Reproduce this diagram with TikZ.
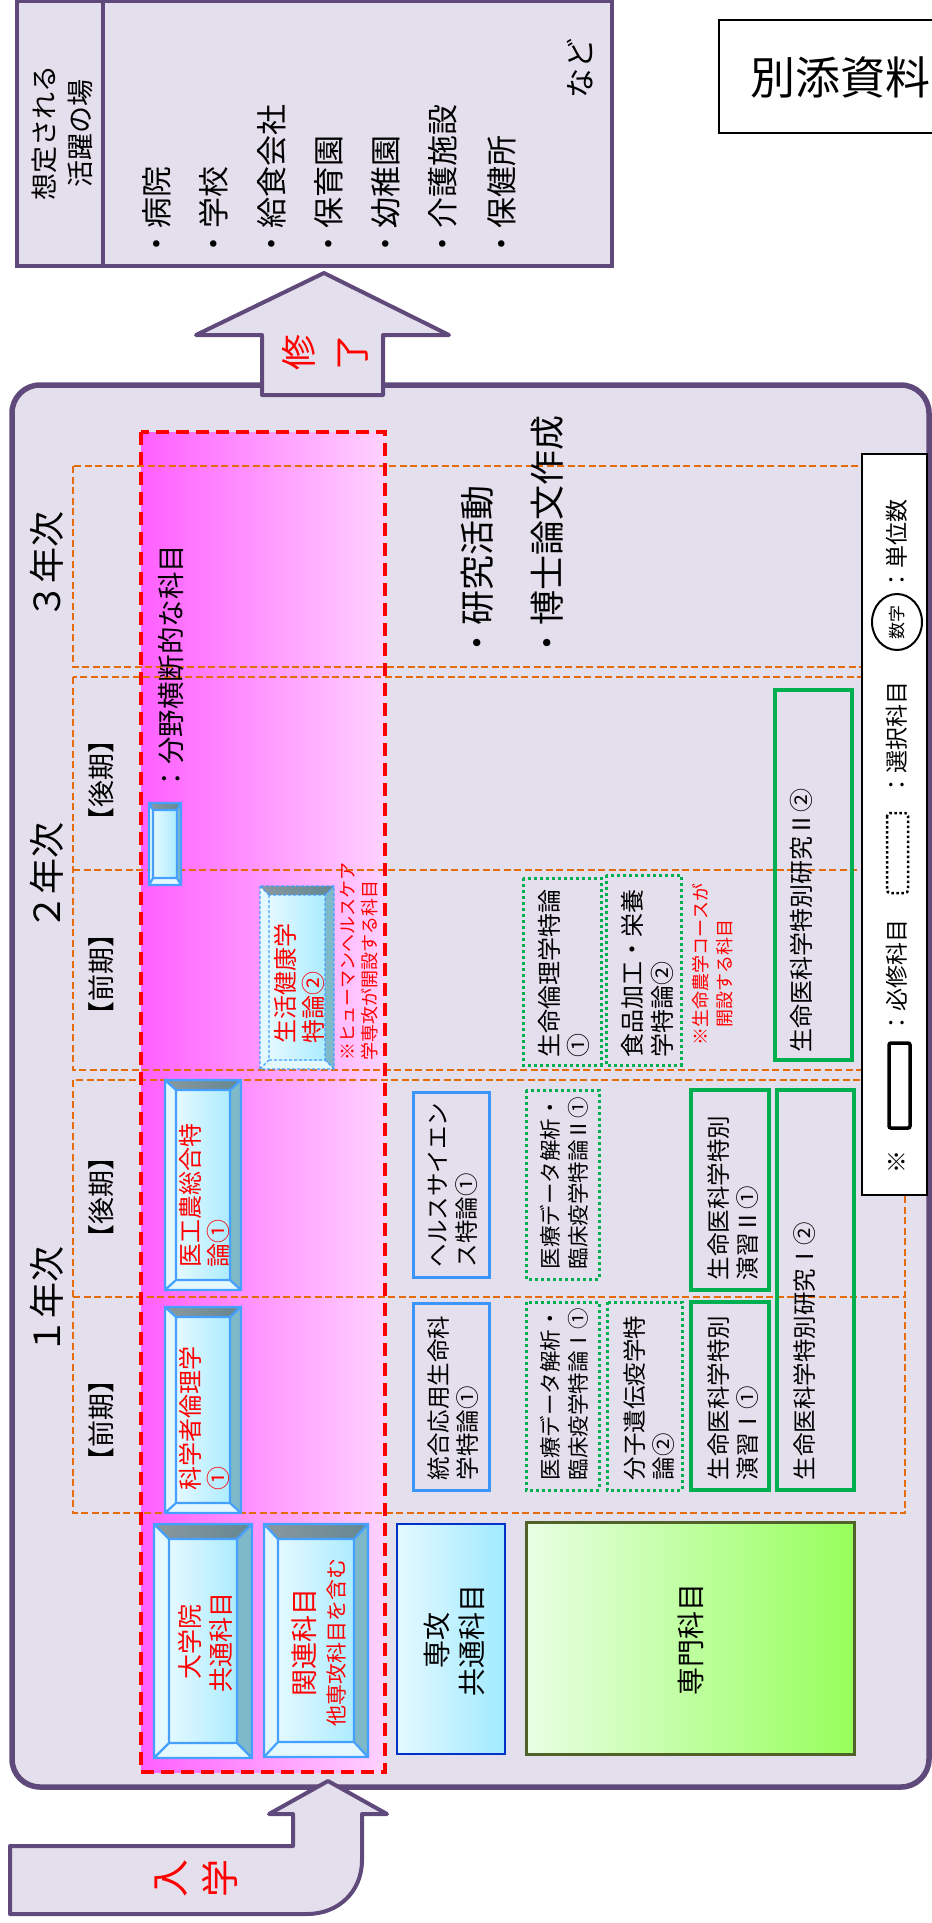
\documentclass[tikz,border=0pt]{standalone}
\usepackage{fontspec}
\setmainfont{Noto Sans CJK JP}
\usetikzlibrary{calc,shapes.geometric}
\definecolor{purp}{RGB}{96,74,123}
\definecolor{lav}{RGB}{228,223,236}
\definecolor{orng}{RGB}{228,108,10}
\definecolor{grn}{RGB}{0,176,80}
\definecolor{blu}{RGB}{60,150,250}
\definecolor{bvline}{RGB}{70,160,255}
\definecolor{bvtopA}{RGB}{138,152,158}
\definecolor{bvtopB}{RGB}{100,135,146}
\definecolor{bvrt}{RGB}{125,185,200}
\definecolor{bvlt}{RGB}{228,249,255}
\definecolor{bvinA}{RGB}{228,249,255}
\definecolor{bvinB}{RGB}{172,236,255}
\definecolor{magA}{RGB}{255,95,255}
\definecolor{magB}{RGB}{255,210,255}
\definecolor{cyA}{RGB}{228,249,255}
\definecolor{cyB}{RGB}{160,234,255}
\definecolor{gnA}{RGB}{232,255,228}
\definecolor{gnB}{RGB}{150,255,90}
\definecolor{olive}{RGB}{80,98,40}
\definecolor{dblue}{RGB}{0,50,200}
\newcommand\fsz[2]{\fontsize{#1}{#2}\selectfont}
\newcommand\bevbox[7][]{%
 \begin{scope}[shift={(#2,#3)}]
  \fill[bvlt] (0,0) -- (#6,#7) -- (#6,{#5-#7}) -- (0,#5) -- cycle;
  \fill[bvlt] (0,#5) -- (#6,{#5-#7}) -- ({#4-#6},{#5-#7}) -- (#4,#5) -- cycle;
  \shade[left color=bvtopA,right color=bvtopB] (0,0) -- (#4,0) -- ({#4-#6},#7) -- (#6,#7) -- cycle;
  \fill[bvrt] (#4,0) -- (#4,#5) -- ({#4-#6},{#5-#7}) -- ({#4-#6},#7) -- cycle;
  \shade[left color=bvinA,right color=bvinB] (#6,#7) rectangle ({#4-#6},{#5-#7});
  \draw[bvl,#1] (0,0) rectangle (#4,#5) (#6,#7) rectangle ({#4-#6},{#5-#7})
     (0,0) -- (#6,#7) (#4,0) -- ({#4-#6},#7) (0,#5) -- (#6,{#5-#7}) (#4,#5) -- ({#4-#6},{#5-#7});
 \end{scope}}
\tikzset{
 vt/.style={rotate=90, inner sep=0pt, outer sep=0pt, align=left, anchor=west},
 vc/.style={rotate=90, inner sep=0pt, outer sep=0pt, align=center, anchor=center},
 pbox/.style={draw=purp, fill=lav, line width=4pt, line join=miter},
 yearbox/.style={draw=orng, line width=2.5pt, dash pattern=on 7pt off 3.5pt},
 reqbox/.style={draw=grn, line width=4pt},
 optbox/.style={draw=grn, line width=3pt, dash pattern=on 3pt off 3pt},
 blubox/.style={draw=blu, line width=3pt},
 bvl/.style={draw=bvline, line width=2.2pt},
}
\begin{document}
\begin{tikzpicture}[x=1pt,y=-1pt]
\useasboundingbox (0,0) rectangle (932,1923);
\clip (0,0) rectangle (932,1923);
\fill[white] (0,0) rectangle (932,1923);

% ---------- top box
\draw[pbox] (17,1) rectangle (612,266);
\draw[draw=purp, line width=4pt] (103,1) -- (103,266);
\node[vc, font=\fsz{27}{36}] (head) at (62,133) {想定される\\活躍の場};
\node[vt, font=\fsz{31}{31}] (p1) at (157,259) {・病院};
\node[vt, font=\fsz{31}{31}] (p2) at (214,259) {・学校};
\node[vt, font=\fsz{31}{31}] (p3) at (272,259) {・給食会社};
\node[vt, font=\fsz{31}{31}] (p4) at (329,259) {・保育園};
\node[vt, font=\fsz{31}{31}] (p5) at (386,259) {・幼稚園};
\node[vt, font=\fsz{31}{31}] (p6) at (443,259) {・介護施設};
\node[vt, font=\fsz{31}{31}] (p7) at (502,259) {・保健所};
\node[vc, font=\fsz{30}{30}] (nado) at (580,68) {など};

% ---------- attachment label
\draw[black, line width=1.5pt, fill=white] (719,20) rectangle (950,133);
\node[inner sep=0pt, anchor=west, font=\fsz{45}{45}] (bessi) at (750,77) {別添資料};

% ---------- main box
\draw[pbox, line width=5.5pt, rounded corners=28pt] (12,385) rectangle (929,1787);

% ---------- exit arrow
\draw[pbox, line join=round] (324,273) -- (449,335) -- (383,335) -- (383,395) -- (262,395) -- (262,335) -- (196,335) -- cycle;
\node[vc, font=\fsz{36}{53}, text=red] (shu) at (325,352) {修\\了};

% ---------- entry arrow
\draw[pbox, line join=round] (10,1846) -- (293,1846) -- (293,1814) -- (269,1814) -- (328,1781) -- (387,1814) -- (362,1814) -- (362,1860) .. controls (362,1892) and (338,1914) .. (307,1914) -- (10,1914) -- cycle;
\node[vc, font=\fsz{38}{50}, text=red] (nyu) at (196,1878) {入\\学};

% ---------- red region fill
\shade[left color=magA, right color=magB] (141,432) rectangle (385,1772);

% ---------- year boxes
\draw[yearbox] (73,466) rectangle (905,667);
\draw[yearbox] (73,677) rectangle (905,1070);
\draw[yearbox] (73,870) -- (905,870);
\draw[yearbox] (73,1080) rectangle (905,1513);
\draw[yearbox] (73,1297) -- (905,1297);

% ---------- red dashed border
\draw[red, line width=4.5pt, dash pattern=on 13pt off 7pt] (141,432) rectangle (385,1772);

% ---------- headings
\node[vc, font=\fsz{36}{36}] (y3) at (47,565) {３年次};
\node[vc, font=\fsz{36}{36}] (y2) at (47,876) {２年次};
\node[vc, font=\fsz{36}{36}] (y1) at (47,1300) {１年次};
\node[vc, font=\fsz{27}{27}] (s2b) at (101,780) {【後期】};
\node[vc, font=\fsz{27}{27}] (s2a) at (101,974) {【前期】};
\node[vc, font=\fsz{27}{27}] (s1b) at (101,1197) {【後期】};
\node[vc, font=\fsz{27}{27}] (s1a) at (101,1420) {【前期】};

% ---------- research
\node[vt, font=\fsz{35}{35}] (r1) at (477,660) {・研究活動};
\node[vt, font=\fsz{35}{35}] (r2) at (547,660) {・博士論文作成};

% ---------- bevel boxes
\bevbox{149}{803}{32}{82}{4}{7}
\node[vt, font=\fsz{27.5}{27.5}] (bunya) at (171,792) {：分野横断的な科目};

\bevbox{165}{1307}{76}{206}{11}{10}
\node[vt, font=\fsz{24}{28}, text=red] (k1) at (204,1490) {科学者倫理学\\①};
\bevbox{165}{1080}{76}{210}{11}{10}
\node[vt, font=\fsz{24}{28}, text=red] (k2) at (204,1267) {医工農総合特\\論①};
\bevbox[dash pattern=on 3pt off 2pt, line width=1.3pt]{260}{886}{74}{183}{9}{9}
\node[vt, font=\fsz{24}{28}, text=red] (k3) at (299,1043) {生活健康学\\特論②};
\node[vt, font=\fsz{18}{22}, text=red] (note1) at (359,1060) {※ヒューマンヘルスケア\\学専攻が開設する科目};

\bevbox{154}{1524}{98}{234}{15}{15}
\node[vc, font=\fsz{25}{31}, text=red] (dai) at (205,1642) {大学院\\共通科目};
\bevbox{264}{1524}{104}{233}{14}{15}
\node[vc, font=\fsz{27}{30}, text=red] (kan) at (319,1642) {関連科目\\{\fsz{21}{30}他専攻科目を含む}};

% ---------- category boxes
\shade[left color=cyA, right color=cyB] (397,1524) rectangle (505,1754);
\draw[dblue, line width=2pt] (397,1524) rectangle (505,1754);
\node[vc, font=\fsz{28}{35}] (senko) at (454,1640) {専攻\\共通科目};
\shade[left color=gnA, right color=gnB] (526,1522) rectangle (854,1754);
\draw[olive, line width=3pt] (526,1522) rectangle (854,1754);
\node[vc, font=\fsz{28}{28}] (senmon) at (691,1639) {専門科目};

% ---------- subject boxes, year 1
\draw[blubox] (413,1303) rectangle (489,1490);
\node[vt, font=\fsz{23.5}{29}] (b1) at (453,1480) {統合応用生命科\\学特論①};
\draw[blubox] (413,1092) rectangle (489,1277);
\node[vt, font=\fsz{23.5}{29}] (b2) at (453,1267) {ヘルスサイエン\\ス特論①};
\draw[optbox] (526,1302) rectangle (599,1490);
\node[vt, font=\fsz{21.5}{28}] (d1) at (564,1480) {医療データ解析・\\臨床疫学特論Ⅰ①};
\draw[optbox] (526,1090) rectangle (599,1279);
\node[vt, font=\fsz{21.5}{28}] (d2) at (564,1269) {医療データ解析・\\臨床疫学特論Ⅱ①};
\draw[optbox] (607,1302) rectangle (682,1490);
\node[vt, font=\fsz{23.5}{29}] (d3) at (649,1480) {分子遺伝疫学特\\論②};
\draw[reqbox] (691,1302) rectangle (769,1490);
\node[vt, font=\fsz{23.5}{29}] (g1) at (733,1480) {生命医科学特別\\演習Ⅰ①};
\draw[reqbox] (691,1090) rectangle (769,1290);
\node[vt, font=\fsz{23.5}{29}] (g2) at (733,1280) {生命医科学特別\\演習Ⅱ①};
\draw[reqbox] (777,1090) rectangle (854,1490);
\node[vt, font=\fsz{23.5}{29}] (g3) at (805,1480) {生命医科学特別研究Ⅰ②};

% ---------- subject boxes, year 2
\draw[optbox] (523,878) rectangle (601,1065);
\node[vt, font=\fsz{24}{29}] (d4) at (564,1057) {生命倫理学特論\\①};
\draw[optbox] (606,875) rectangle (681,1065);
\node[vt, font=\fsz{24}{30}] (d5) at (647,1057) {食品加工・栄養\\学特論②};
\node[vt, font=\fsz{18}{24}, text=red] (note2) at (713,1045) {※生命農学コースが\\　開設する科目};
\draw[reqbox] (775,690) rectangle (852,1060);
\node[vt, font=\fsz{24}{29}] (g4) at (801,1052) {生命医科学特別研究Ⅱ②};

% ---------- legend
\draw[black, line width=2pt, fill=white] (862,454) rectangle (927,1195);
\node[vc, font=\fsz{23}{23}] (l1) at (897,1162) {※};
\draw[black, line width=3.5pt, rounded corners=2pt] (889,1043) rectangle (910,1128);
\node[vt, font=\fsz{23}{23}] (l2) at (897,1034) {：必修科目};
\draw[black, line width=2.5pt, dash pattern=on 2.5pt off 2.5pt, rounded corners=3pt] (887,813) rectangle (908,893);
\node[vt, font=\fsz{23}{23}] (l3) at (897,796) {：選択科目};
\node[draw=black, line width=2pt, ellipse, minimum width=50pt, minimum height=56pt, inner sep=0pt] (l4) at (897,622) {};
\node[vc, font=\fsz{17}{17}] (l4t) at (l4.center) {数字};
\node[vt, font=\fsz{23}{23}] (l5) at (897,591) {：単位数};
\end{tikzpicture}
\end{document}
